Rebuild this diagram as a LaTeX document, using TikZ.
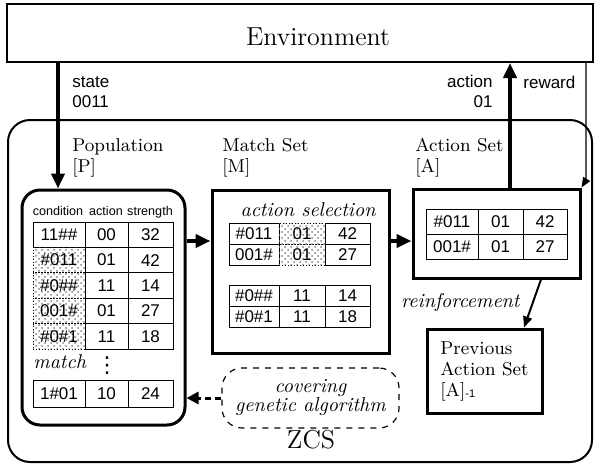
\documentclass[tikz,border=0pt]{standalone}
\usepackage{fontspec}
\newfontfamily\arial{Liberation Sans}
\newfontfamily\dejavu{DejaVu Sans}
\usetikzlibrary{arrows.meta,patterns}

\newcommand\bigfont{\fontsize{13}{15}\selectfont}
\newcommand\lblfont{\fontsize{9.3}{10.5}\selectfont}
\newcommand\itfont{\fontsize{10}{9.5}\selectfont\itshape}
\newcommand\sansfont{\arial\fontsize{8.5}{10}\selectfont}

\tikzset{
  setbox/.style={draw, line width=1.5pt, inner sep=0pt},
  cell/.style={draw, line width=0.5pt, inner sep=0pt, minimum height=12.7pt, font=\sansfont},
  mcell/.style={cell, minimum height=10.5pt},
  hit/.style={pattern=crosshatch dots, pattern color=black!50, densely dotted},
  lbl/.style={inner sep=0pt, align=left, font=\lblfont},
  sanslbl/.style={inner sep=0pt, font=\sansfont},
  head/.style={inner sep=0pt, font=\arial\fontsize{6.3}{7}\selectfont},
  fat/.style={line width=2pt, -{Triangle[length=7.5pt,width=6.5pt]}},
  thinarr/.style={line width=0.6pt, -{Triangle[length=5pt,width=4pt]}},
  reinf/.style={line width=1pt, -{Triangle[length=5.5pt,width=4.5pt]}},
  dasharr/.style={line width=1.5pt, dash pattern=on 3pt off 2pt, -{Triangle[length=6pt,width=6pt]}}
}

\begin{document}
\begin{tikzpicture}[x=0.5pt,y=-0.5pt]
\useasboundingbox (0,0) rectangle (594,466);

% environment and the ZCS frame
\node[draw, line width=1pt, minimum width=293pt, minimum height=29pt] (env) at (300,33) {};
\node[font=\bigfont, anchor=base] (envlbl) at (318,45) {Environment};
\node[draw, line width=1pt, rounded corners=11pt, minimum width=292pt, minimum height=171pt] (zcs) at (300,291) {};
\node[font=\bigfont, anchor=base] (zcslbl) at (311,448) {ZCS};

% the four sets
\node[setbox, rounded corners=9pt, minimum width=81.5pt, minimum height=117.5pt] (pop) at (103.5,307.5) {};
\node[setbox, minimum width=88.5pt, minimum height=81.5pt] (mset) at (300.5,271.5) {};
\node[setbox, minimum width=83.5pt, minimum height=44.5pt] (aset) at (496.5,233.5) {};
\node[setbox, minimum width=57.5pt, minimum height=42pt, align=left, font=\lblfont] (prev) at (484.5,371)
  {Previous\\Action Set\\{[A]}\raisebox{-0.8pt}{\arial\fontsize{5.5}{6}\selectfont -1}};
\node[draw, dashed, line width=0.6pt, rounded corners=10pt, minimum width=88.5pt, minimum height=30pt,
  align=center, font=\itfont] (cover) at (310.5,398) {covering\\genetic algorithm};

% set names (base = last line)
\node[lbl, anchor=base west] (poplbl) at (72,172) {Population\\{[P]}};
\node[lbl, anchor=base west] (msetlbl) at (222,172) {Match Set\\{[M]}};
\node[lbl, anchor=base west] (asetlbl) at (415,172) {Action Set\\{[A]}};

% population table
\node[head, anchor=base] (h1) at (58,215) {condition};
\node[head, anchor=base] (h2) at (106,215) {action};
\node[head, anchor=base] (h3) at (150,215) {strength};
\node[cell, minimum width=26pt] (pc1) at (59,234.7) {11\#\#};
\node[cell, minimum width=21.5pt] (pa1) at (106.5,234.7) {00};
\node[cell, minimum width=22.5pt] (ps1) at (150.5,234.7) {32};
\foreach \cnd/\act/\str [count=\i from 2] in {\#011/01/42, \#0\#\#/11/14, 001\#/01/27, \#0\#1/11/18} {
  \node[cell, hit, minimum width=26pt] (pc\i) at (59,{222+25.4*(\i-0.5)}) {\cnd};
  \node[cell, minimum width=21.5pt] (pa\i) at (106.5,{222+25.4*(\i-0.5)}) {\act};
  \node[cell, minimum width=22.5pt] (ps\i) at (150.5,{222+25.4*(\i-0.5)}) {\str};
}
\node[inner sep=0pt, font=\itfont, anchor=base west] (matchlbl) at (33,368) {match};
\node[inner sep=0pt, font=\dejavu\fontsize{11}{11}\selectfont, anchor=base] (dots) at (107,372) {⋮};
\node[cell, minimum width=26pt, minimum height=13.5pt] (pcn) at (59,393.5) {1\#01};
\node[cell, minimum width=21.5pt, minimum height=13.5pt] (pan) at (106.5,393.5) {10};
\node[cell, minimum width=22.5pt, minimum height=13.5pt] (psn) at (150.5,393.5) {24};

% match set tables
\node[inner sep=0pt, font=\itfont, anchor=base] (sellbl) at (308,216) {action selection};
\foreach \cnd/\str [count=\i] in {\#011/42, 001\#/27} {
  \node[mcell, minimum width=25pt] (mc\i) at (254,{223+21*(\i-0.5)}) {\cnd};
  \node[mcell, hit, minimum width=23pt] (ma\i) at (302,{223+21*(\i-0.5)}) {01};
  \node[mcell, minimum width=22.5pt] (ms\i) at (347.5,{223+21*(\i-0.5)}) {\str};
}
\foreach \cnd/\str [count=\i from 3] in {\#0\#\#/14, \#0\#1/18} {
  \node[mcell, minimum width=25pt] (mc\i) at (254,{285+21*(\i-2.5)}) {\cnd};
  \node[mcell, minimum width=23pt] (ma\i) at (302,{285+21*(\i-2.5)}) {11};
  \node[mcell, minimum width=22.5pt] (ms\i) at (347.5,{285+21*(\i-2.5)}) {\str};
}

% action set table
\foreach \cnd/\str [count=\i] in {\#011/42, 001\#/27} {
  \node[cell, minimum height=12.5pt, minimum width=26pt] (ac\i) at (452,{209+25*(\i-0.5)}) {\cnd};
  \node[cell, minimum height=12.5pt, minimum width=22.5pt] (aa\i) at (500.5,{209+25*(\i-0.5)}) {01};
  \node[cell, minimum height=12.5pt, minimum width=22pt] (as\i) at (545,{209+25*(\i-0.5)}) {\str};
}

% connectors
\coordinate (sx) at (58,0);
\coordinate (ax) at (510,0);
\coordinate (rx) at (586,0);
\coordinate (fy) at (0,241);
\coordinate (r1) at (541,0);
\coordinate (r2) at (524,0);
\coordinate (rbend) at (586,165);
\coordinate (rctl) at (586,180);
\draw[fat] (env.south -| sx) -- (pop.north -| sx);
\draw[fat] (aset.north -| ax) -- (env.south -| ax);
\draw[thinarr] (env.south -| rx) -- (rbend) .. controls (rctl) .. (aset.north east);
\draw[fat] (pop.east |- fy) -- (mset.west |- fy);
\draw[fat] (mset.east |- fy) -- (aset.west |- fy);
\draw[reinf] (aset.south -| r1) -- (prev.north -| r2);
\draw[dasharr] (cover.west) -- (pop.east |- cover.west);

% arrow labels (base = last line)
\node[sanslbl, align=left, anchor=base west] (statelbl) at (72,107) {state\\0011};
\node[sanslbl, align=right, anchor=base east] (actlbl) at (493,107) {action\\01};
\node[sanslbl, anchor=base west] (rewlbl) at (523,88) {reward};
\node[inner sep=0pt, font=\itfont, anchor=base east] (reinflbl) at (520,307) {reinforcement};
\end{tikzpicture}
\end{document}
